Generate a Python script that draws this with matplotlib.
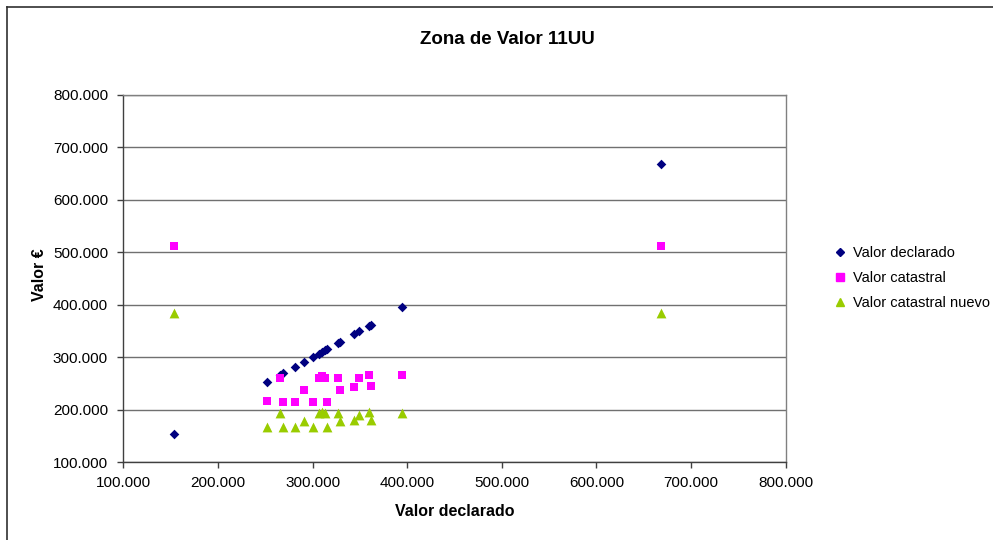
import matplotlib
matplotlib.use("Agg")
import matplotlib.pyplot as plt
from matplotlib.ticker import FuncFormatter, MultipleLocator
from matplotlib.lines import Line2D

plt.rcParams['font.family'] = ['Liberation Sans', 'DejaVu Sans']

# Property values (euros)
valor_declarado = [154000, 252000, 266000, 269000, 281000, 291000, 300000, 306500,
                   309500, 313500, 315000, 327000, 328500, 344000, 349500, 360000,
                   362000, 395000, 668000]
valor_catastral = [511000, 215500, 260500, 213500, 213500, 237000, 213500, 260500,
                   263500, 260500, 213500, 260500, 237000, 243000, 260500, 265000,
                   244000, 265000, 511000]
valor_catastral_nuevo = [384000, 166000, 194000, 166000, 166000, 179000, 166000, 194000,
                         195000, 194000, 166000, 194000, 179000, 180000, 190000, 195000,
                         180000, 194000, 384000]

series_names = ["Valor declarado", "Valor catastral", "Valor catastral nuevo"]
title = "Zona de Valor 11UU"
x_label = "Valor declarado"
y_label = "Valor €"


def miles(v, pos):
    return f"{int(round(v)):,}".replace(",", ".")


fig = plt.figure(figsize=(9.93, 5.40), dpi=100)
ax = fig.add_axes([123.3 / 993, 1 - 462 / 540, (785.7 - 123.3) / 993, (462 - 94.7) / 540])

ax.scatter(valor_declarado, valor_declarado, marker='D', s=24, color='#000080',
           linewidths=0, zorder=3, label=series_names[0])
ax.scatter(valor_declarado, valor_catastral, marker='s', s=40, color='#FF00FF',
           linewidths=0, zorder=3, label=series_names[1])
ax.scatter(valor_declarado, valor_catastral_nuevo, marker='^', s=50, color='#99CC00',
           linewidths=0, zorder=3, label=series_names[2])

ax.set_xlim(100000, 800000)
ax.set_ylim(100000, 800000)
ax.xaxis.set_major_locator(MultipleLocator(100000))
ax.yaxis.set_major_locator(MultipleLocator(100000))
ax.xaxis.set_major_formatter(FuncFormatter(miles))
ax.yaxis.set_major_formatter(FuncFormatter(miles))
ax.tick_params(axis='both', direction='out', length=4, width=1, color='#404040',
               labelsize=11, labelcolor='black')
ax.tick_params(axis='x', pad=6)
ax.tick_params(axis='y', pad=7)
ax.yaxis.grid(True, color='#707070', linewidth=1)
ax.set_axisbelow(True)

for side in ('left', 'bottom'):
    ax.spines[side].set_color('#404040')
    ax.spines[side].set_linewidth(1)
for side in ('top', 'right'):
    ax.spines[side].set_color('#808080')
    ax.spines[side].set_linewidth(1)

fig.text(507 / 993, 1 - 40 / 540, title, ha='center', va='center',
         fontsize=13.5, fontweight='bold')
fig.text(455 / 993, 1 - 511 / 540, x_label, ha='center', va='center',
         fontsize=11.5, fontweight='bold')
fig.text(40 / 993, 1 - 275 / 540, y_label, ha='center', va='center',
         fontsize=11.5, fontweight='bold', rotation=90)

handles = [
    Line2D([], [], marker='D', linestyle='none', color='#000080', markersize=4.5),
    Line2D([], [], marker='s', linestyle='none', color='#FF00FF', markersize=5.5),
    Line2D([], [], marker='^', linestyle='none', color='#99CC00', markersize=6),
]
leg = fig.legend(handles, series_names, loc='center left',
                 bbox_to_anchor=(828 / 993, 1 - 278 / 540), frameon=False,
                 fontsize=10.5, handlelength=0.8, handletextpad=0.5,
                 labelspacing=0.75, borderaxespad=0)

# Chart area frame (left and top edges)
fig.add_artist(Line2D([7 / 993, 7 / 993], [0, 1 - 7 / 540], transform=fig.transFigure,
                      color='#303030', linewidth=1.2))
fig.add_artist(Line2D([7 / 993, 1], [1 - 7 / 540, 1 - 7 / 540], transform=fig.transFigure,
                      color='#303030', linewidth=1.2))

fig.savefig("out.png", dpi=100, facecolor='white')
